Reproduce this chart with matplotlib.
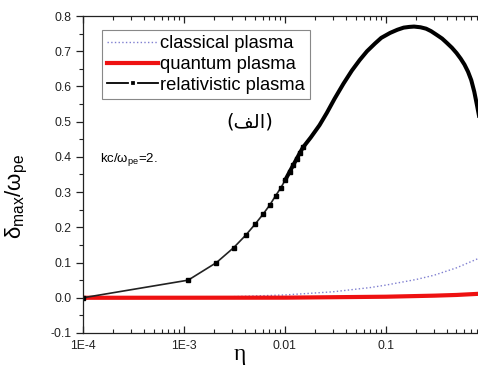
import numpy as np
import matplotlib
matplotlib.use('Agg')
import matplotlib.pyplot as plt
from matplotlib.lines import Line2D
from matplotlib.ticker import FixedLocator, FixedFormatter, MultipleLocator, LogLocator

plt.rcParams['font.family'] = ['Liberation Sans', 'DejaVu Sans']
plt.rcParams['mathtext.fontset'] = 'custom'
plt.rcParams['mathtext.rm'] = 'Liberation Sans'
plt.rcParams['mathtext.it'] = 'Liberation Sans:italic'

## data
# relativistic plasma: sparse points with visible markers, then dense part
eta_rel = [1e-4, 1.1e-3, 2.1e-3, 3.1e-3, 4.1e-3, 5.1e-3, 6.1e-3, 7.1e-3,
           8.1e-3, 9.1e-3, 0.0101, 0.0111, 0.0121, 0.0131, 0.0141, 0.0151,
           0.018, 0.022, 0.026, 0.031, 0.038, 0.046, 0.055, 0.065, 0.078,
           0.09, 0.11, 0.13, 0.15, 0.17, 0.19, 0.22, 0.25, 0.28, 0.32,
           0.36, 0.40, 0.45, 0.50, 0.55, 0.60, 0.65, 0.70, 0.75, 0.80, 1.0]
delta_rel = [0.0, 0.050, 0.100, 0.142, 0.178, 0.210, 0.238, 0.264,
             0.290, 0.312, 0.335, 0.357, 0.377, 0.395, 0.412, 0.427,
             0.455, 0.490, 0.525, 0.565, 0.608, 0.645, 0.675, 0.700, 0.722,
             0.738, 0.752, 0.761, 0.767, 0.769, 0.770, 0.768, 0.764, 0.757, 0.746,
             0.736, 0.724, 0.710, 0.695, 0.679, 0.662, 0.642, 0.618, 0.585, 0.545, 0.40]

eta_cl = [1e-4, 1e-3, 3e-3, 0.01, 0.03, 0.07, 0.1, 0.2, 0.3, 0.5, 0.8, 1.0]
delta_cl = [0.0, 0.001, 0.003, 0.008, 0.017, 0.029, 0.036, 0.052, 0.064,
            0.085, 0.110, 0.122]

eta_q = [1e-4, 1e-3, 0.01, 0.1, 0.3, 0.5, 0.8, 1.0]
delta_q = [0.0, 0.0001, 0.0003, 0.003, 0.006, 0.008, 0.011, 0.013]

xticks = [1e-4, 1e-3, 1e-2, 1e-1, 1.0]
xticklabels = ['1E-4', '1E-3', '0.01', '0.1', '']
yticks = [-0.1, 0.0, 0.1, 0.2, 0.3, 0.4, 0.5, 0.6, 0.7, 0.8]

n_mark = 16   # points drawn with visible markers

fig = plt.figure(figsize=(4.78, 3.81), dpi=100)
ax = fig.add_axes([0.1736, 0.126, 0.845, 0.832])

ax.plot(eta_cl, delta_cl, ':', color='#7f7fd0', lw=1.0)
ax.plot(eta_q, delta_q, '-', color='#ee1111', lw=3.0)
ax.plot(eta_rel[:n_mark], delta_rel[:n_mark], '-s', color='#222222',
        lw=1.2, ms=2.6, mfc='k', mec='k')
ax.plot(eta_rel[n_mark - 6:], delta_rel[n_mark - 6:], '-', color='k', lw=2.9,
        solid_joinstyle='round')

ax.set_xscale('log')
ax.set_xlim(1e-4, 1.0)
ax.set_ylim(-0.1, 0.8)
ax.xaxis.set_major_locator(FixedLocator(xticks))
ax.xaxis.set_major_formatter(FixedFormatter(xticklabels))
ax.xaxis.set_minor_locator(LogLocator(base=10, subs=np.arange(2, 10)))
ax.xaxis.set_minor_formatter(FixedFormatter([]))
ax.yaxis.set_major_locator(FixedLocator(yticks))
ax.set_yticklabels(['%.1f' % v for v in yticks])
ax.yaxis.set_minor_locator(MultipleLocator(0.05))

ax.tick_params(axis='x', which='both', direction='in', top=True,
               colors='#222222', labelsize=8.8, pad=5)
ax.tick_params(axis='x', which='major', length=5, width=0.9)
ax.tick_params(axis='x', which='minor', length=3, width=0.8)
ax.tick_params(axis='y', which='both', direction='out', colors='#222222',
               labelsize=8.8)
ax.tick_params(axis='y', which='major', length=5, width=0.9)
ax.tick_params(axis='y', which='minor', length=3, width=0.8)
for s in ax.spines.values():
    s.set_color('#222222')
    s.set_linewidth(0.9)

ax.set_xlabel('η', family=['Liberation Serif', 'DejaVu Serif'], fontsize=17)
ax.xaxis.set_label_coords(0.389, -0.035)
ax.set_ylabel(r'$\mathrm{δ}_{\mathrm{max}}/\mathrm{ω}_{\mathrm{pe}}$', fontsize=16)
ax.yaxis.set_label_coords(-0.13, 0.43)

ax.text(0.042, 0.546, r'kc/$\mathrm{ω}_{\mathrm{pe}}$=2.', transform=ax.transAxes,
        fontsize=9.5, va='center', ha='left')
# Arabic "(الف)" written with presentation forms in visual order
ax.text(0.413, 0.666, '(\uFED2\uFEDF\uFE8D)', transform=ax.transAxes,
        family=['DejaVu Sans'], fontsize=14, va='center', ha='center')

handles = [Line2D([], [], ls=':', color='#7f7fd0', lw=1.0),
           Line2D([], [], ls='-', color='#ee1111', lw=3.0),
           Line2D([], [], ls='-', color='k', lw=1.3, marker='s', ms=5,
                  mfc='k', mec='white', mew=1.6)]
labels = ['classical plasma', 'quantum plasma', 'relativistic plasma']
leg = ax.legend(handles, labels, loc='upper left',
                bbox_to_anchor=(0.047, 0.956), borderaxespad=0,
                fontsize=13.2, handlelength=2.75, handletextpad=0.1,
                labelspacing=0.2, borderpad=0.3, numpoints=1,
                fancybox=False, framealpha=1, edgecolor='#888888')
leg.get_frame().set_linewidth(0.8)

plt.savefig('out.png', dpi=100)
